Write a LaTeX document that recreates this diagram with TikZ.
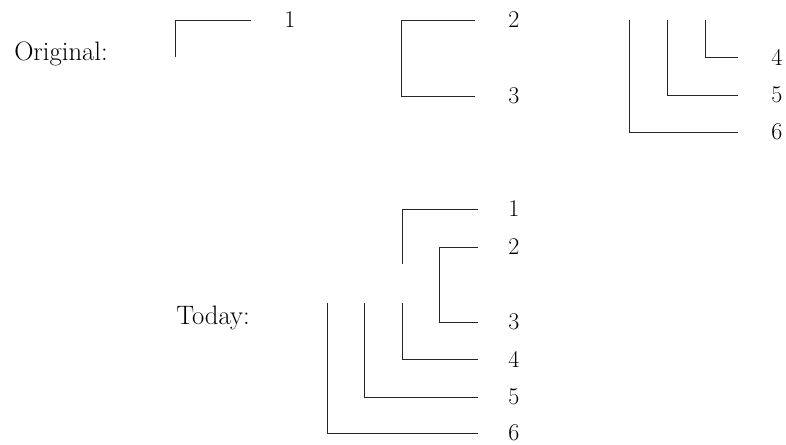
\documentclass[tikz,border=0pt]{standalone}
\usepackage{tikz}
\usetikzlibrary{positioning}

\begin{document}
\begin{tikzpicture}[x=0.75pt, y=-0.75pt,
  branch/.style={line width=0.65pt, draw=black!85},
  gap/.style={shorten >=#1},
  leaf/.style={font=\fontsize{18}{21}\selectfont, inner sep=0pt},
  title/.style={font=\fontsize{20}{23}\selectfont, inner sep=0pt}]
  \useasboundingbox (0,0) rectangle (786,445);

  % Original row
  \node[title] (orig) at (61,54) {Original:};
  \node[leaf] (o1) at (290,20) {1};
  \node[leaf] (o2) at (514,20) {2};
  \node[leaf] (o3) at (514,96) {3};
  \node[leaf] (o4) at (777,57) {4};
  \node[leaf] (o5) at (777,95) {5};
  \node[leaf] (o6) at (777,132) {6};

  % free ends of the stubs
  \coordinate (s1) at (175,57);
  \coordinate (s4) at (705,20);
  \coordinate (s5) at (667,20);
  \coordinate (s6) at (629,20);

  \draw[branch, gap=25pt] (s1) |- (o1.west);
  \draw[branch, gap=25pt] ([xshift=-25pt]o2.west) -- ++(-73,0) |- (o3.west);
  \draw[branch, gap=25pt] (s4) |- (o4.west);
  \draw[branch, gap=25pt] (s5) |- (o5.west);
  \draw[branch, gap=25pt] (s6) |- (o6.west);

  % Today row
  \node[title] (today) at (213,318) {Today:};
  \node[leaf] (t1) at (514,209) {1};
  \node[leaf] (t2) at (514,247) {2};
  \node[leaf] (t3) at (514,322) {3};
  \node[leaf] (t4) at (514,359) {4};
  \node[leaf] (t5) at (514,397) {5};
  \node[leaf] (t6) at (514,433) {6};

  \coordinate (u1) at (402,264);
  \coordinate (u4) at (402,303);
  \coordinate (u5) at (364,303);
  \coordinate (u6) at (327,303);

  \draw[branch, gap=23pt] (u1) |- (t1.west);
  \draw[branch, gap=23pt] ([xshift=-23pt]t2.west) -- ++(-38,0) |- (t3.west);
  \draw[branch, gap=23pt] (u4) |- (t4.west);
  \draw[branch, gap=23pt] (u5) |- (t5.west);
  \draw[branch, gap=23pt] (u6) |- (t6.west);
\end{tikzpicture}
\end{document}
